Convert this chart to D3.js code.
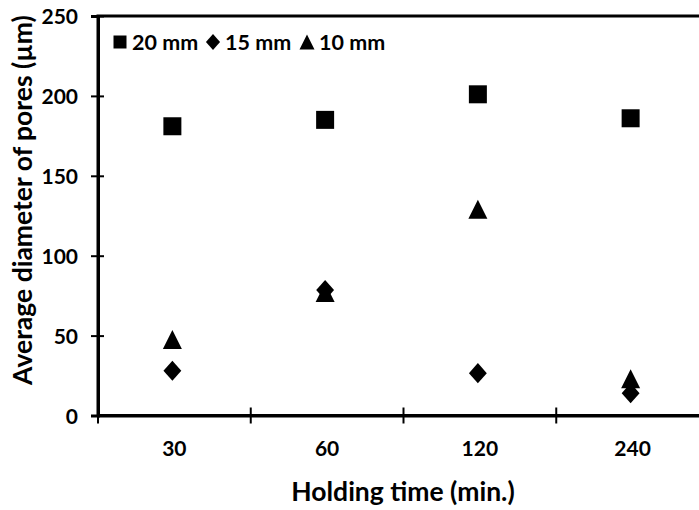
<!DOCTYPE html>
<html>
<head>
<meta charset="utf-8">
<script src="https://cdn.jsdelivr.net/npm/d3@7"></script>
<style>
  body { margin: 0; background: #fff; }
  svg text { font-family: Lato, "Open Sans", sans-serif; font-weight: 700; fill: #000; }
</style>
</head>
<body>
<svg id="chart"></svg>
<script>
// Data
const holdingTimes = ["30", "60", "120", "240"];
const pores20mm = [181, 185, 201, 186];
const pores15mm = [28, 78.5, 26.5, 14];
const pores10mm = [47.5, 77, 129, 23];
const yTicks = [0, 50, 100, 150, 200, 250];

const series = [
  { name: "20 mm", values: pores20mm, shape: "square" },
  { name: "15 mm", values: pores15mm, shape: "diamond" },
  { name: "10 mm", values: pores10mm, shape: "triangle" }
];

const W = 699, H = 510;
const plot = { left: 98, right: 709, top: 16, bottom: 415.5 };

const svg = d3.select("#chart").attr("width", W).attr("height", H);

// Scales
const x = d3.scaleBand().domain(holdingTimes).range([plot.left, plot.right]).padding(0);
const y = d3.scaleLinear().domain([0, 250]).range([plot.bottom, plot.top]);

// Marker shapes (Excel style, centred on bounding box)
const shapes = {
  square: { draw(ctx, s) { const h = s / 2; ctx.rect(-h, -h, s, s); } },
  diamond: { draw(ctx, s) {
    const w = s * 0.47, h = s * 0.53;
    ctx.moveTo(0, -h); ctx.lineTo(w, 0); ctx.lineTo(0, h); ctx.lineTo(-w, 0); ctx.closePath();
  } },
  triangle: { draw(ctx, s) {
    const w = s * 0.5, h = s * 0.5;
    ctx.moveTo(0, -h); ctx.lineTo(w, h); ctx.lineTo(-w, h); ctx.closePath();
  } }
};
const markerSize = { square: 18, diamond: 19, triangle: 19 };

// Plot frame (top/right edges)
svg.append("rect")
  .attr("x", plot.left).attr("y", plot.top)
  .attr("width", plot.right - plot.left).attr("height", plot.bottom - plot.top)
  .attr("fill", "none").attr("stroke", "#000").attr("stroke-width", 3);

// Y axis
const yAxis = svg.append("g")
  .attr("transform", `translate(${plot.left},0)`)
  .call(d3.axisLeft(y).tickValues(yTicks).tickSize(7).tickPadding(0).tickFormat(d3.format("d")));
yAxis.select(".domain").attr("stroke-width", 3);
yAxis.selectAll(".tick line").attr("x1", 6).attr("x2", -7).attr("stroke-width", 2);
yAxis.selectAll(".tick text")
  .attr("x", -20).attr("dy", "0.36em")
  .style("font-size", "21px");

// X axis: labels centred in bands, ticks at band edges
const xAxis = svg.append("g")
  .attr("transform", `translate(0,${plot.bottom})`)
  .call(d3.axisBottom(x).tickSize(0).tickPadding(0));
xAxis.select(".domain").attr("stroke-width", 3);
xAxis.selectAll(".tick text")
  .attr("y", 33).attr("dy", "0.36em")
  .style("font-size", "21px");

svg.append("g")
  .selectAll("line")
  .data(holdingTimes)
  .join("line")
  .attr("x1", d => x(d)).attr("x2", d => x(d))
  .attr("y1", plot.bottom - 8).attr("y2", plot.bottom + 8)
  .attr("stroke", "#000").attr("stroke-width", 2);

// Points
series.forEach(s => {
  svg.append("g")
    .selectAll("path")
    .data(s.values)
    .join("path")
    .attr("transform", (d, i) => `translate(${x(holdingTimes[i]) + x.bandwidth() / 2 - 2},${y(d)})`)
    .attr("d", d3.symbol().type(shapes[s.shape]).size(markerSize[s.shape]))
    .attr("fill", "#000");
});

// Legend
const legendX = [120, 213, 307];
const legend = svg.append("g");
series.forEach((s, i) => {
  const g = legend.append("g").attr("transform", `translate(${legendX[i]},42)`);
  g.append("path")
    .attr("d", d3.symbol().type(shapes[s.shape]).size(s.shape === "square" ? 13 : 15))
    .attr("fill", "#000");
  g.append("text")
    .attr("x", 12).attr("dy", "0.36em")
    .style("font-size", "21.5px")
    .text(s.name);
});

// Axis titles
svg.append("text")
  .attr("x", 403).attr("y", 491).attr("dy", "0.36em")
  .attr("text-anchor", "middle")
  .style("font-size", "26.5px")
  .text("Holding time (min.)");

svg.append("text")
  .attr("transform", "translate(22,200) rotate(-90)")
  .attr("dy", "0.36em")
  .attr("text-anchor", "middle")
  .style("font-size", "26.5px")
  .text("Average diameter of pores (µm)");
</script>
</body>
</html>
